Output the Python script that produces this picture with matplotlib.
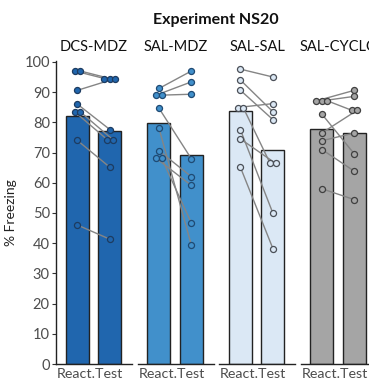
import matplotlib
matplotlib.use("Agg")
import matplotlib.pyplot as plt
import numpy as np

plt.rcParams['font.family'] = ['Lato', 'DejaVu Sans']

# Groups and paired % freezing per animal (Reactivation -> Test)
groups = ["DCS-MDZ", "SAL-MDZ", "SAL-SAL", "SAL-CYCLO"]

react_dcs_mdz = [97.0, 97.0, 90.6, 86.0, 83.5, 83.5, 74.0, 46.0]
test_dcs_mdz = [94.5, 94.5, 94.5, 77.6, 74.3, 74.3, 65.1, 41.3]

react_sal_mdz = [91.2, 89.0, 89.0, 84.7, 78.1, 70.6, 68.1, 68.1]
test_sal_mdz = [97.0, 93.4, 89.3, 67.9, 39.3, 62.0, 59.1, 46.6]

react_sal_sal = [97.6, 94.0, 90.6, 84.9, 84.9, 77.5, 74.5, 65.1]
test_sal_sal = [95.0, 83.5, 80.9, 86.2, 66.4, 49.9, 66.4, 38.2]

react_sal_cyclo = [87.1, 87.1, 87.1, 82.7, 76.5, 73.9, 71.0, 58.0]
test_sal_cyclo = [90.6, 88.6, 84.0, 69.5, 84.0, 76.5, 63.8, 54.4]

react_values = [react_dcs_mdz, react_sal_mdz, react_sal_sal, react_sal_cyclo]
test_values = [test_dcs_mdz, test_sal_mdz, test_sal_sal, test_sal_cyclo]

fills = ["#2066ae", "#4190cb", "#dbe8f5", "#a5a5a5"]
point_edges = ["#1d3b60", "#1f4a73", "#4a4f57", "#3f3f3f"]

y_ticks = [0, 10, 20, 30, 40, 50, 60, 70, 80, 90, 100]


def dodge(values, step=0.17):
    """Spread identical values side by side so the points do not overlap."""
    values = np.asarray(values)
    offs = np.zeros(len(values))
    for v in np.unique(values):
        idx = np.where(values == v)[0]
        n = len(idx)
        offs[idx] = (np.arange(n) - (n - 1) / 2) * step
    return offs


W, H = 369, 385
fig = plt.figure(figsize=(W / 100, H / 100), dpi=100)

panel_w = 76
panel_gap = 81.5
left0 = 56
bottom_px = 364
top_px = 61

text_grey = "#4d4d4d"

for i, g in enumerate(groups):
    lx = left0 + i * panel_gap
    ax = fig.add_axes([lx / W, (H - bottom_px) / H, panel_w / W, (bottom_px - top_px) / H])
    r = np.asarray(react_values[i])
    t = np.asarray(test_values[i])
    means = [r.mean(), t.mean()]
    ax.bar([0, 1], means, width=0.71, color=fills[i], edgecolor="#222222",
           linewidth=1.0, zorder=1)
    xr = 0 + dodge(r)
    xt = 1 + dodge(t)
    for a, b, ya, yb in zip(xr, xt, r, t):
        ax.plot([a, b], [ya, yb], color="#858585", lw=1.0, zorder=2,
                solid_capstyle="round")
    ax.scatter(xr, r, s=19, color=fills[i], edgecolor=point_edges[i],
               linewidth=0.9, zorder=3, clip_on=False)
    ax.scatter(xt, t, s=19, color=fills[i], edgecolor=point_edges[i],
               linewidth=0.9, zorder=3, clip_on=False)

    ax.set_xlim(-0.66, 1.68)
    ax.set_ylim(0, 100.3)
    ax.set_xticks([0.4])
    ax.set_xticklabels(["React.Test"], fontsize=10.3, color=text_grey)
    ax.tick_params(axis="x", length=0, pad=3)
    for s in ["top", "right"]:
        ax.spines[s].set_visible(False)
    ax.spines["bottom"].set_color("#222222")
    ax.spines["bottom"].set_linewidth(1.0)
    if i == 0:
        ax.set_yticks(y_ticks)
        ax.set_yticklabels([str(v) for v in y_ticks], fontsize=10.5, color=text_grey)
        ax.tick_params(axis="y", length=3, width=0.8, color="#333333", pad=1.5)
        ax.spines["left"].set_color("#222222")
        ax.spines["left"].set_linewidth(1.0)
        ax.set_ylabel("% Freezing", fontsize=10, color="#222222", labelpad=5)
    else:
        ax.spines["left"].set_visible(False)
        ax.set_yticks([])
    ax.set_title(g, fontsize=10.5, color="#111111", pad=7)

fig.text(216 / W, 1 - 20 / H, "Experiment NS20", ha="center", va="center",
         fontsize=11.5, fontweight="bold", color="#111111")

fig.savefig("out.png", dpi=100)
